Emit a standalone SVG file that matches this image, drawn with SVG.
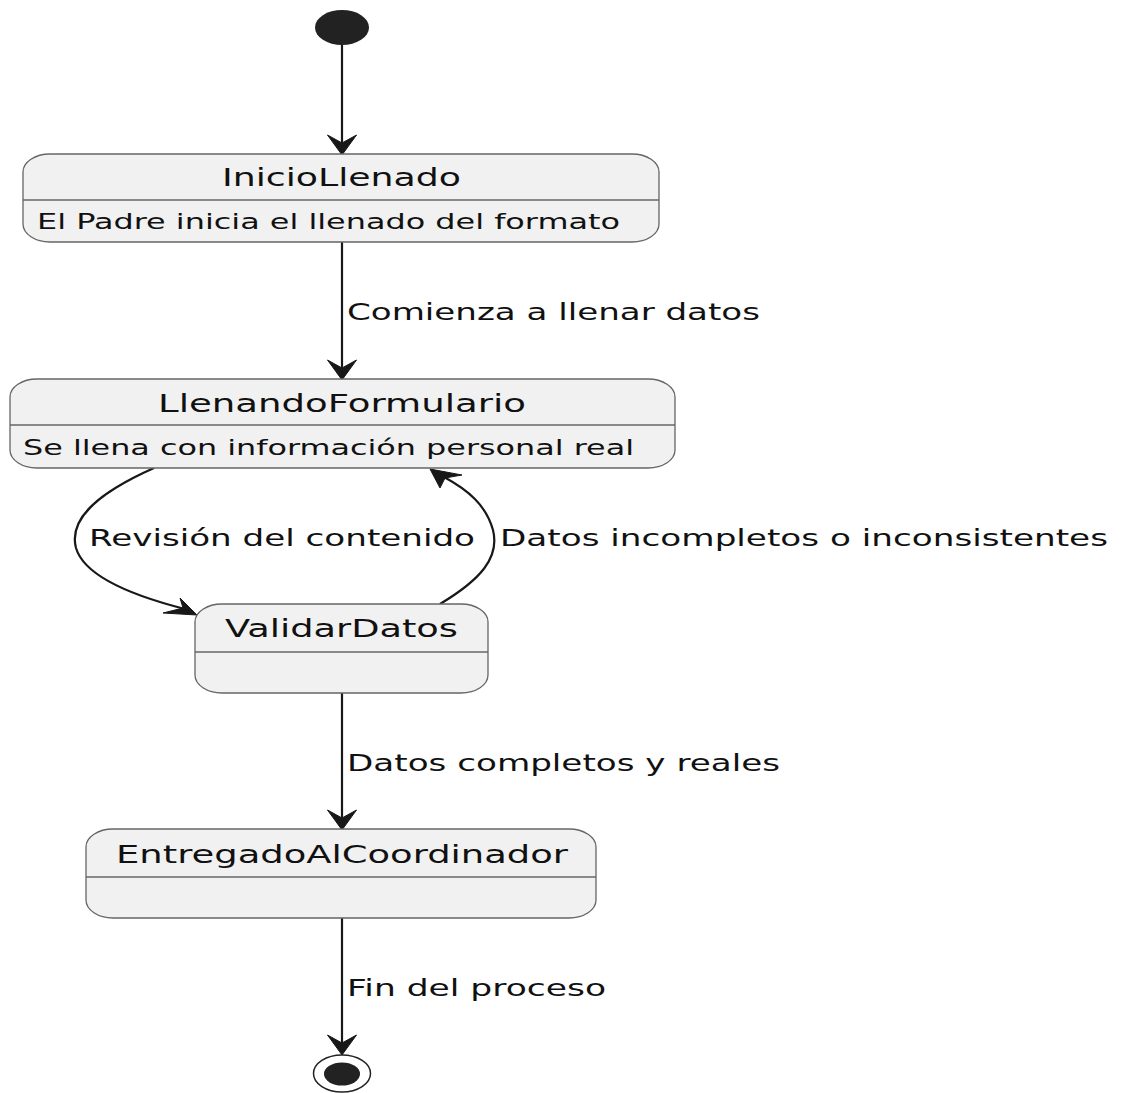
<svg xmlns="http://www.w3.org/2000/svg" width="1123" height="1093" viewBox="0 0 1123 1093">
<style>
.box{fill:#F1F1F1;stroke:#666;stroke-width:1.3}
.sep{stroke:#666;stroke-width:1.3}
.edge{fill:none;stroke:#181818;stroke-width:2.2}
.head{fill:#181818;stroke:#181818;stroke-width:1}
.title{font-family:"DejaVu Sans",sans-serif;font-size:25px;fill:#111}
.desc{font-family:"DejaVu Sans",sans-serif;font-size:21px;fill:#111}
.lbl{font-family:"DejaVu Sans",sans-serif;font-size:23px;fill:#111}
</style>
<rect width="1123" height="1093" fill="#fff"/>
<g id="edges">
  <line class="edge" x1="342" y1="44" x2="342" y2="143"/>
  <polygon class="head" points="342,155 327.5,135 342,143 356.5,135"/>
  <line class="edge" x1="342" y1="242" x2="342" y2="368"/>
  <polygon class="head" points="342,380 327.5,360 342,368 356.5,360"/>
  <text class="lbl" x="347" y="320" textLength="413" lengthAdjust="spacingAndGlyphs">Comienza a llenar datos</text>
  <path class="edge" d="M154,468 C100,492 68,518 76,548 C84,575 130,595 185,609"/>
  <polygon class="head" points="197,615 180,598 183,608 163,613"/>
  <text class="lbl" x="89" y="546" textLength="386" lengthAdjust="spacingAndGlyphs">Revisión del contenido</text>
  <path class="edge" d="M440,604 C480,580 500,558 493,530 C486,505 468,490 444,477"/>
  <polygon class="head" points="430,469 462,475 445,478 440,488"/>
  <text class="lbl" x="500" y="546" textLength="608" lengthAdjust="spacingAndGlyphs">Datos incompletos o inconsistentes</text>
  <line class="edge" x1="342" y1="693" x2="342" y2="818"/>
  <polygon class="head" points="342,830 327.5,810 342,818 356.5,810"/>
  <text class="lbl" x="347" y="771" textLength="433" lengthAdjust="spacingAndGlyphs">Datos completos y reales</text>
  <line class="edge" x1="342" y1="918" x2="342" y2="1043"/>
  <polygon class="head" points="342,1055 327.5,1035 342,1043 356.5,1035"/>
  <text class="lbl" x="347" y="996" textLength="259" lengthAdjust="spacingAndGlyphs">Fin del proceso</text>
</g>
<g id="start">
  <ellipse cx="342" cy="27.5" rx="27" ry="17.5" fill="#222"/>
</g>
<g id="InicioLlenado">
  <rect class="box" x="23" y="154" width="636" height="88" rx="27" ry="18"/>
  <line class="sep" x1="23" y1="200" x2="659" y2="200"/>
  <text class="title" x="222" y="186" textLength="239" lengthAdjust="spacingAndGlyphs">InicioLlenado</text>
  <text class="desc" x="37" y="229" textLength="583" lengthAdjust="spacingAndGlyphs">El Padre inicia el llenado del formato</text>
</g>
<g id="LlenandoFormulario">
  <rect class="box" x="10" y="379" width="665" height="89" rx="27" ry="18"/>
  <line class="sep" x1="10" y1="425" x2="675" y2="425"/>
  <text class="title" x="158" y="412" textLength="368" lengthAdjust="spacingAndGlyphs">LlenandoFormulario</text>
  <text class="desc" x="23" y="455" textLength="611" lengthAdjust="spacingAndGlyphs">Se llena con información personal real</text>
</g>
<g id="ValidarDatos">
  <rect class="box" x="195" y="604" width="293" height="89" rx="27" ry="18"/>
  <line class="sep" x1="195" y1="652" x2="488" y2="652"/>
  <text class="title" x="225" y="637" textLength="233" lengthAdjust="spacingAndGlyphs">ValidarDatos</text>
</g>
<g id="EntregadoAlCoordinador">
  <rect class="box" x="86" y="829" width="510" height="89" rx="27" ry="18"/>
  <line class="sep" x1="86" y1="877" x2="596" y2="877"/>
  <text class="title" x="116" y="863" textLength="452" lengthAdjust="spacingAndGlyphs">EntregadoAlCoordinador</text>
</g>
<g id="end">
  <ellipse cx="342" cy="1073.5" rx="28.5" ry="18.5" fill="none" stroke="#222" stroke-width="1.5"/>
  <ellipse cx="342" cy="1074" rx="18" ry="11.5" fill="#222"/>
</g>
</svg>
